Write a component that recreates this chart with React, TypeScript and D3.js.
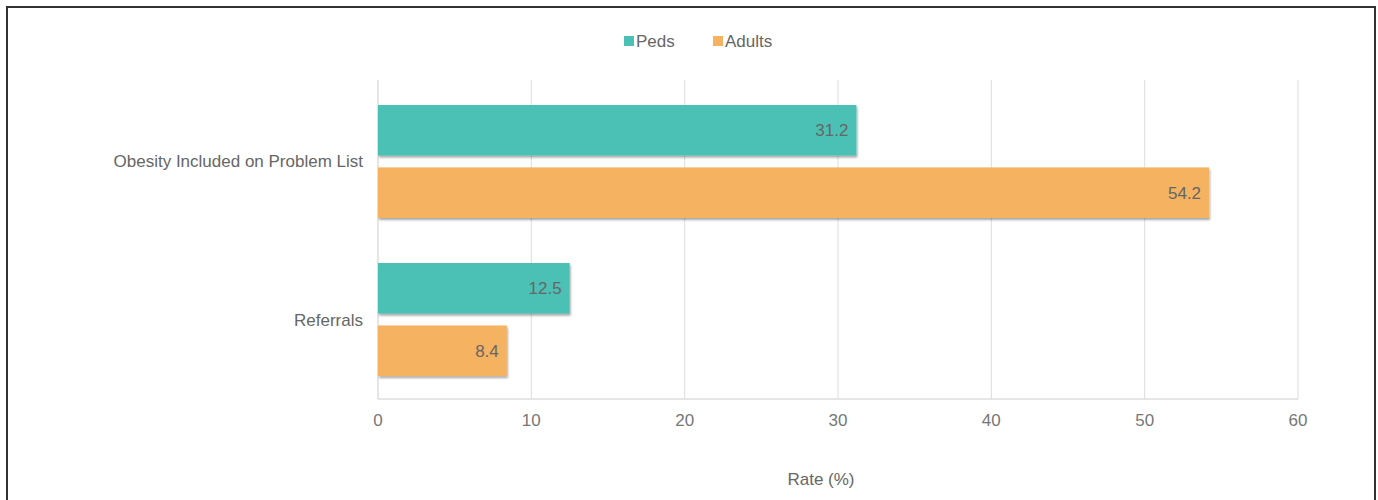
import React from "react";
import * as d3 from "d3";

const categories = ["Obesity Included on Problem List", "Referrals"];
const seriesNames = ["Peds", "Adults"];
const pedsValues = [31.2, 12.5];
const adultsValues = [54.2, 8.4];
const xTicks = [0, 10, 20, 30, 40, 50, 60];
const axisTitle = "Rate (%)";
const colors = ["#4BC0B4", "#F5B261"];

const W = 1378;
const H = 500;
const left = 378;
const right = 1298;
const top = 80;
const bottom = 399;

export default function App() {
  const x = d3.scaleLinear().domain([0, 60]).range([left, right]);
  const y0 = d3
    .scaleBand<string>()
    .domain(categories)
    .range([top, 401])
    .paddingInner(0.285)
    .paddingOuter(0.158);
  const y1 = d3
    .scaleBand<string>()
    .domain(seriesNames)
    .range([0, y0.bandwidth()])
    .paddingInner(0.19)
    .paddingOuter(0);
  const values = [pedsValues, adultsValues];
  const font = "'Liberation Sans', Arial, sans-serif";
  const fs = 17;

  return (
    <div style={{ position: "absolute", left: 0, top: 0 }}>
      <svg width={W} height={H} style={{ display: "block", fontFamily: font }}>
        <defs>
          <filter id="shadow" x="-5%" y="-20%" width="110%" height="160%">
            <feDropShadow dx="1" dy="2" stdDeviation="1.2" floodColor="#000" floodOpacity="0.35" />
          </filter>
        </defs>
        <rect x={0} y={0} width={W} height={H} fill="#fff" />
        <path d={`M7,${H} V7 H1375 V${H}`} fill="none" stroke="#333" strokeWidth={2} />

        {/* legend */}
        {seriesNames.map((s, i) => {
          const lx = i === 0 ? 624 : 713;
          return (
            <g key={s}>
              <rect x={lx} y={36} width={10} height={10} fill={colors[i]} />
              <text x={lx + 12} y={47} fontSize={fs} fill="#666">
                {s}
              </text>
            </g>
          );
        })}

        {/* gridlines */}
        {xTicks.map((t) => (
          <line key={t} x1={x(t)} x2={x(t)} y1={top} y2={bottom} stroke={t === 0 ? "#ccc" : "#ddd"} strokeWidth={1} />
        ))}
        <line x1={left} x2={right} y1={bottom} y2={bottom} stroke="#ccc" />

        {/* bars */}
        {categories.map((c, ci) => (
          <g key={c}>
            {seriesNames.map((s, si) => {
              const v = values[si][ci];
              const by = (y0(c) as number) + (y1(s) as number);
              const bh = y1.bandwidth();
              return (
                <g key={s}>
                  <rect x={x(0)} y={by} width={x(v) - x(0)} height={bh} fill={colors[si]} filter="url(#shadow)" />
                  <text x={x(v) - 8} y={by + bh / 2 + 6} textAnchor="end" fontSize={fs} fill="#666">
                    {v}
                  </text>
                </g>
              );
            })}
            <text x={363} y={(y0(c) as number) + y0.bandwidth() / 2 + 6} textAnchor="end" fontSize={fs} fill="#666">
              {c}
            </text>
          </g>
        ))}

        {/* x tick labels */}
        {xTicks.map((t) => (
          <text key={t} x={x(t)} y={426} textAnchor="middle" fontSize={fs} fill="#777">
            {t}
          </text>
        ))}
        <text x={821} y={485} textAnchor="middle" fontSize={fs} fill="#666">
          {axisTitle}
        </text>
      </svg>
    </div>
  );
}
